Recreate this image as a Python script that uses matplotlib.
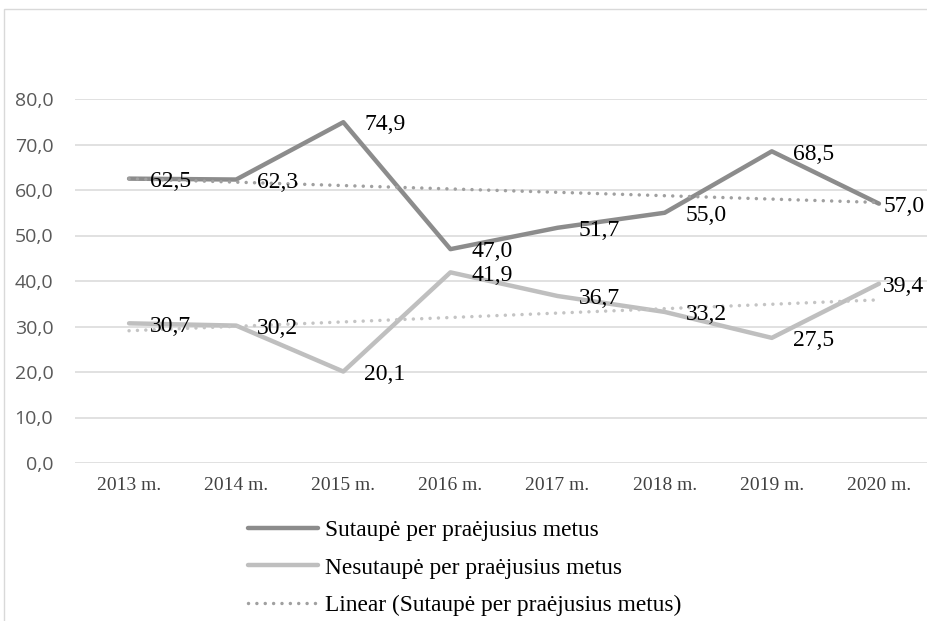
import numpy as np
import matplotlib.pyplot as plt
from matplotlib.patches import Rectangle

# duomenys
metai = ['2013 m.', '2014 m.', '2015 m.', '2016 m.', '2017 m.', '2018 m.', '2019 m.', '2020 m.']
sutaupe = [62.5, 62.3, 74.9, 47.0, 51.7, 55.0, 68.5, 57.0]
nesutaupe = [30.7, 30.2, 20.1, 41.9, 36.7, 33.2, 27.5, 39.4]
y_ticks = [0, 10, 20, 30, 40, 50, 60, 70, 80]

serif = 'Liberation Serif'
sans = 'Open Sans'

W, H = 928, 621
fig = plt.figure(figsize=(W / 100, H / 100), dpi=100)

# remelis aplink diagrama
fig.patches.append(Rectangle((4 / W, -0.1), 1.2, 1 - 9 / H + 0.1, transform=fig.transFigure,
                             fill=False, edgecolor='#d9d9d9', linewidth=1.0))

ax = fig.add_axes([75.5 / W, 1 - 463 / H, 857 / W, 364 / H])
x = np.arange(len(metai))

# tiesiniai trendai
k1 = np.polyfit(x, sutaupe, 1)
k2 = np.polyfit(x, nesutaupe, 1)
dot = (0, (0.01, 2.4))

l1, = ax.plot(x, sutaupe, color='#8c8c8c', lw=3.2, solid_capstyle='round',
              solid_joinstyle='round', zorder=3)
l2, = ax.plot(x, nesutaupe, color='#bfbfbf', lw=3.2, solid_capstyle='round',
              solid_joinstyle='round', zorder=3)
t1, = ax.plot(x, np.polyval(k1, x), color='#a0a0a0', lw=2.5, linestyle=dot,
              dash_capstyle='round', zorder=4)
t2, = ax.plot(x, np.polyval(k2, x), color='#c4c4c4', lw=2.5, linestyle=dot,
              dash_capstyle='round', zorder=4)

# reiksmiu etiketes (paskutines pastumtos arciau tasko, kad tilptu)
for serija in (sutaupe, nesutaupe):
    for i, v in enumerate(serija):
        dx = 3 if i == len(serija) - 1 else 15
        ax.annotate(f'{v:.1f}'.replace('.', ','), (i, v), xytext=(dx, -2),
                    textcoords='offset points', ha='left', va='center',
                    fontsize=17, family=serif, color='black', zorder=5)

ax.set_xlim(-0.5, 7.5)
ax.set_ylim(0, 80)
ax.set_yticks(y_ticks)
ax.set_yticklabels([f'{t:.1f}'.replace('.', ',') for t in y_ticks],
                   family=sans, fontsize=14, color='#595959')
ax.set_xticks(x)
ax.set_xticklabels(metai, family=serif, fontsize=14, color='#404040')
ax.tick_params(axis='y', length=0, pad=16)
ax.tick_params(axis='x', length=0, pad=10)
ax.grid(axis='y', color='#d9d9d9', lw=1.1)
ax.set_axisbelow(True)
for s in ax.spines.values():
    s.set_visible(False)

fig.legend([l1, l2, t1],
           ['Sutaupė per praėjusius metus', 'Nesutaupė per praėjusius metus',
            'Linear (Sutaupė per praėjusius metus)'],
           loc='upper left', bbox_to_anchor=(248 / W, 1 - 520 / H),
           frameon=False, borderpad=0, borderaxespad=0,
           handlelength=3.0, handletextpad=0.3, labelspacing=0.68,
           prop={'family': serif, 'size': 16.8})

plt.savefig('out.png', dpi=100)
